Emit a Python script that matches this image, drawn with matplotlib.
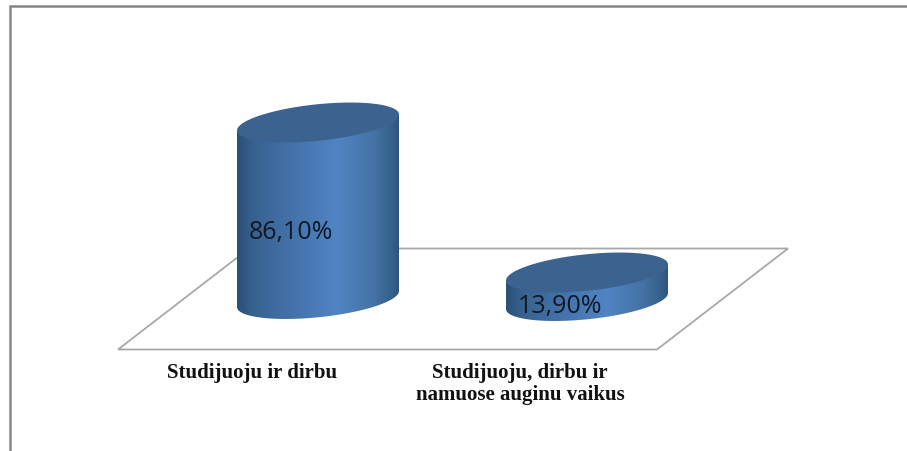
import numpy as np
import matplotlib.pyplot as plt
from matplotlib.colors import LinearSegmentedColormap
from matplotlib.patches import Polygon, PathPatch
from matplotlib.path import Path

# chart data
categories = ["Studijuoju ir dirbu", "Studijuoju, dirbu ir\nnamuose auginu vaikus"]
values = [86.10, 13.90]
value_labels = ["86,10%", "13,90%"]

W, H = 907, 452
PX_PER_PCT = 2.05
BAR_X = [318, 587]
BASE_Y = [300, 302]
LABEL_XY = [(291, 232.5), (560, 307)]
CAT_X = [252, 520]

side_cmap = LinearSegmentedColormap.from_list("side", [
    (0.0, "#2b5078"), (0.1, "#386290"), (0.35, "#4473ab"), (0.62, "#5084c3"),
    (0.85, "#4472a4"), (0.96, "#35608c"), (1.0, "#2e5580")])

fig = plt.figure(figsize=(W / 100, H / 100), dpi=100)
ax = fig.add_axes([0, 0, 1, 1])
ax.set_xlim(0, W)
ax.set_ylim(H, 0)
ax.axis("off")

# outer chart frame
ax.plot([10, 10, W], [H, 7, 7], color="#868686", lw=1.8, solid_joinstyle="miter")

# floor of the 3d plot
floor = Polygon([(118, 350.5), (657, 350.5), (788, 249.5), (249, 249.5)], closed=True,
                fill=False, ec="#a8a8a8", lw=1.3, zorder=1)
ax.add_patch(floor)


def ellipse(cx, cy, t):
    # tilted ellipse, perspective of the cylinder ends
    return cx + 81 * np.cos(t), cy - 8 * np.cos(t) + 18.3 * np.sin(t)


def draw_cylinder(cx, base, value):
    top = base - value * PX_PER_PCT
    t = np.linspace(0, np.pi, 80)
    bx, by = ellipse(cx, base, t)
    body = np.column_stack([np.r_[cx + 81, bx, cx - 81], np.r_[top - 8, by, top + 8]])
    patch = PathPatch(Path(np.r_[body, body[:1]]), fc="none", ec="none", zorder=2)
    ax.add_patch(patch)
    grad = np.linspace(0, 1, 200).reshape(1, -1)
    im = ax.imshow(grad, cmap=side_cmap, extent=[cx - 81, cx + 81, base + 25, top - 25],
                   aspect="auto", zorder=2, interpolation="bilinear")
    im.set_clip_path(patch)
    t2 = np.linspace(0, 2 * np.pi, 160)
    tx, ty = ellipse(cx, top, t2)
    ax.add_patch(Polygon(np.column_stack([tx, ty]), closed=True, fc="#3c638f",
                         ec="none", zorder=3))


for cx, base, val in zip(BAR_X, BASE_Y, values):
    draw_cylinder(cx, base, val)

ax.set_xlim(0, W)
ax.set_ylim(H, 0)

for (lx, ly), txt in zip(LABEL_XY, value_labels):
    ax.text(lx, ly, txt, ha="center", va="center", fontsize=18, color="#111a24",
            family="Open Sans", zorder=4)

for x, cat in zip(CAT_X, categories):
    ax.text(x, 363, cat, ha="center", va="top", fontsize=15, fontweight="bold",
            family="Liberation Serif", color="#111111", linespacing=1.15, zorder=4)

fig.savefig("out.png", dpi=100, facecolor="white")
